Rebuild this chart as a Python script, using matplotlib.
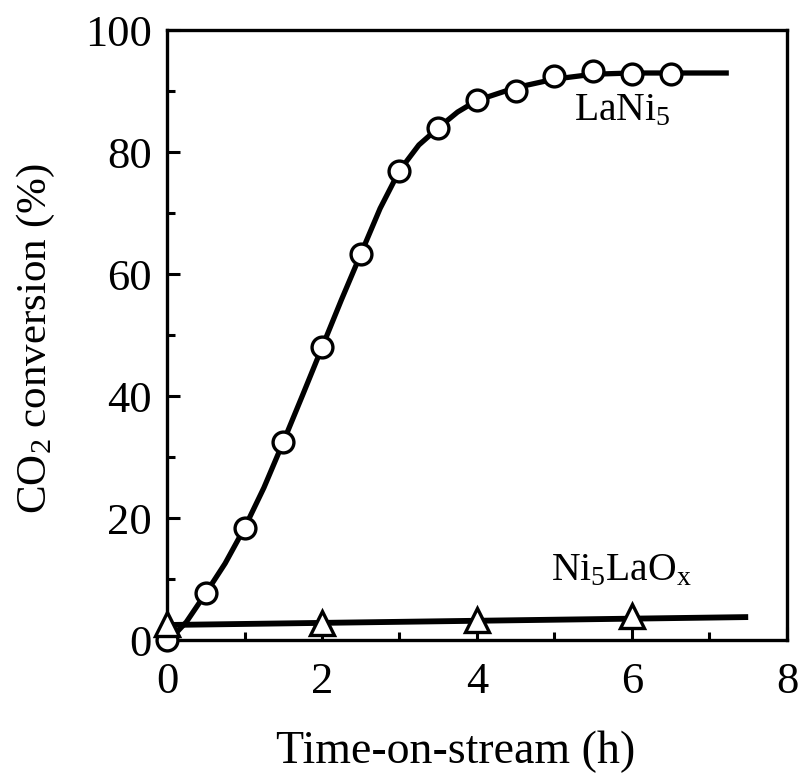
import numpy as np
import matplotlib.pyplot as plt
from matplotlib.ticker import MultipleLocator

plt.rcParams['font.family'] = ['Liberation Serif', 'DejaVu Serif']
plt.rcParams['mathtext.fontset'] = 'custom'
plt.rcParams['mathtext.rm'] = 'Liberation Serif'
plt.rcParams['mathtext.it'] = 'Liberation Serif:italic'

# LaNi5 measured points
lani5_t = [0, 0.5, 1.0, 1.5, 2.0, 2.5, 3.0, 3.5, 4.0, 4.5, 5.0, 5.5, 6.0, 6.5]
lani5_conv = [0, 7.7, 18.4, 32.5, 48.0, 63.3, 77.0, 84.0, 88.5, 90.0, 92.5, 93.3, 92.8, 92.8]
# guide curve drawn through the points
lani5_curve_t = [0.05, 0.25, 0.5, 0.75, 1.0, 1.25, 1.5, 1.75, 2.0, 2.25, 2.5, 2.75, 3.0, 3.25,
                 3.5, 3.75, 4.0, 4.5, 5.0, 5.5, 6.0, 6.5, 7.25]
lani5_curve = [0.3, 3.0, 7.7, 12.6, 18.4, 25.0, 32.5, 40.2, 48.0, 55.8, 63.3, 70.8, 77.0, 81.2,
               84.0, 86.6, 88.5, 90.6, 92.0, 92.8, 93.0, 93.0, 93.0]

# Ni5LaOx measured points
ni5laox_t = [0, 2, 4, 6]
ni5laox_conv = [2.6, 2.9, 3.3, 3.9]
ni5laox_line_t = [0, 7.5]
ni5laox_line = [2.5, 3.8]

fig = plt.figure(figsize=(8.03, 7.77), dpi=100)
ax = fig.add_axes([0.208, 0.176, 0.772, 0.785])

ax.plot(lani5_curve_t, lani5_curve, color='black', lw=3.8, solid_capstyle='butt', zorder=2)
ax.plot(lani5_t, lani5_conv, 'o', ms=15, mfc='white', mec='black', mew=2.4, zorder=3,
        clip_on=False)

ax.plot(ni5laox_line_t, ni5laox_line, color='black', lw=4.2, solid_capstyle='butt', zorder=2)
ax.plot(ni5laox_t, ni5laox_conv, '^', ms=17, mfc='white', mec='black', mew=2.4, zorder=3,
        clip_on=False)

ax.text(5.25, 85.2, 'LaNi$_5$', fontsize=28.5)
ax.text(4.95, 9.8, 'Ni$_5$LaO$_\\mathregular{x}$', fontsize=28.5)

ax.set_xlim(0, 8)
ax.set_ylim(0, 100)
ax.xaxis.set_major_locator(MultipleLocator(2))
ax.xaxis.set_minor_locator(MultipleLocator(1))
ax.yaxis.set_major_locator(MultipleLocator(20))
ax.yaxis.set_minor_locator(MultipleLocator(10))
ax.tick_params(which='both', direction='in', top=False, right=False, width=2.2, labelsize=32)
ax.tick_params(which='major', length=9.4)
ax.tick_params(which='minor', length=5.8)
ax.tick_params(axis='x', which='major', pad=16)
ax.tick_params(axis='y', which='major', pad=11)
for s in ax.spines.values():
    s.set_linewidth(2.4)

ax.set_xlabel('Time-on-stream (h)', fontsize=33)
ax.set_ylabel('CO$_2$ conversion (%)', fontsize=31)
ax.xaxis.set_label_coords(0.465, -0.148)
ax.yaxis.set_label_coords(-0.177, 0.495)

fig.savefig('out.png', dpi=100)
